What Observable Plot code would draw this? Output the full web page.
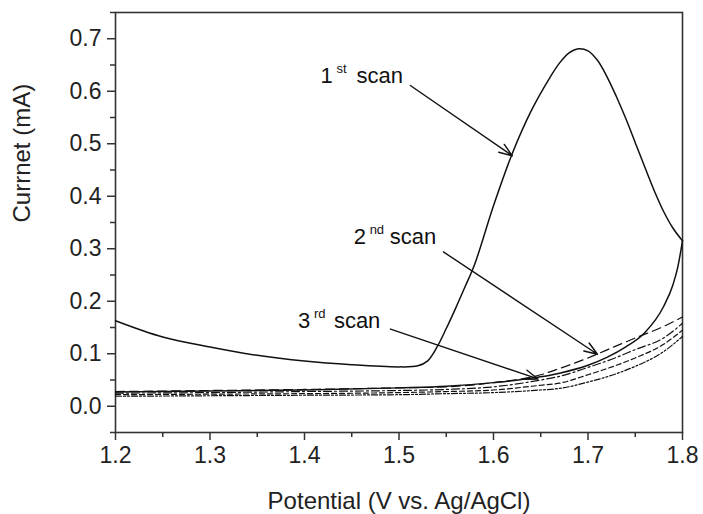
<!DOCTYPE html>
<html>
<head>
<meta charset="utf-8">
<script src="https://cdn.jsdelivr.net/npm/d3@7"></script>
<script src="https://cdn.jsdelivr.net/npm/@observablehq/plot@0.6"></script>
<style>
  body { margin: 0; background: #fff; }
  svg { font-family: "Liberation Sans", Arial, sans-serif; }
</style>
</head>
<body>
<div id="chart"></div>
<script>
// ---- data ----
const scan1FwdV = [1.20,1.25,1.30,1.35,1.40,1.45,1.50,1.52,1.53,1.54,1.55,1.56,1.57,1.58,1.60,1.62,1.64,1.66,1.67,1.68,1.69,1.70,1.71,1.72,1.73,1.74,1.75,1.76,1.77,1.78,1.79,1.80];
const scan1FwdI = [0.163,0.132,0.113,0.097,0.086,0.079,0.075,0.077,0.086,0.112,0.148,0.187,0.228,0.270,0.382,0.482,0.563,0.627,0.654,0.673,0.681,0.677,0.659,0.628,0.590,0.548,0.502,0.456,0.411,0.371,0.339,0.315];
const scan1RevV = [1.20,1.30,1.40,1.50,1.55,1.60,1.65,1.67,1.70,1.72,1.74,1.76,1.78,1.79,1.795,1.80];
const scan1RevI = [0.027,0.029,0.031,0.035,0.038,0.045,0.056,0.063,0.078,0.093,0.113,0.140,0.190,0.232,0.265,0.315];
const scanV    = [1.20,1.30,1.40,1.50,1.55,1.60,1.65,1.67,1.70,1.73,1.75,1.78,1.80];
const scan2FwdI = [0.028,0.030,0.032,0.035,0.037,0.045,0.060,0.072,0.092,0.115,0.130,0.152,0.170];
const scan2RevI = [0.025,0.026,0.028,0.030,0.032,0.037,0.050,0.057,0.074,0.093,0.108,0.130,0.158];
const scan3FwdI = [0.022,0.023,0.024,0.026,0.028,0.031,0.040,0.044,0.060,0.078,0.092,0.118,0.145];
const scan3RevI = [0.019,0.020,0.021,0.022,0.024,0.026,0.031,0.034,0.046,0.062,0.076,0.104,0.133];

const xTicks = [1.2,1.3,1.4,1.5,1.6,1.7,1.8];
const xMinor = [1.25,1.35,1.45,1.55,1.65,1.75];
const yTicks = [0.0,0.1,0.2,0.3,0.4,0.5,0.6,0.7];
const yMinor = [-0.05,0.05,0.15,0.25,0.35,0.45,0.55,0.65,0.75];

const labelNum = ["1","2","3"];
const labelSup = ["st","nd","rd"];
const labelV   = [1.417,1.452,1.393];
const labelI   = [0.616,0.309,0.149];
const arrowV1 = [1.512,1.547,1.491];
const arrowI1 = [0.611,0.294,0.147];
const arrowV2 = [1.620,1.710,1.647];
const arrowI2 = [0.477,0.099,0.052];

const xLabel = "Potential (V vs. Ag/AgCl)";
const yLabel = "Currnet (mA)";

// ---- build tables ----
const toRows = (V, I) => V.map((v, i) => ({v, i: I[i]}));
const solidFwd = toRows(scan1FwdV, scan1FwdI);
const solidRev = toRows(scan1RevV, scan1RevI);
const s2f = toRows(scanV, scan2FwdI);
const s2r = toRows(scanV, scan2RevI);
const s3f = toRows(scanV, scan3FwdI);
const s3r = toRows(scanV, scan3RevI);
const labels = labelNum.map((n, k) => ({n, sup: labelSup[k], v: labelV[k], i: labelI[k]}));
const arrows = arrowV1.map((v, k) => ({v1: v, i1: arrowI1[k], v2: arrowV2[k], i2: arrowI2[k]}));

const lineOpts = {x: "v", y: "i", curve: "monotone-x", stroke: "#111"};

const chart = Plot.plot({
  width: 703,
  height: 514,
  marginLeft: 115,
  marginRight: 21,
  marginTop: 12,
  marginBottom: 82,
  style: {fontFamily: "Liberation Sans, Arial, sans-serif", background: "#fff"},
  x: {domain: [1.2, 1.8]},
  y: {domain: [-0.05, 0.75]},
  marks: [
    Plot.axisX({ticks: xMinor, tickSize: 5, text: null, stroke: "#333", strokeWidth: 1.5, label: null}),
    Plot.axisX({ticks: xTicks, tickSize: 8, tickPadding: 6, tickFormat: d3.format(".1f"), fontSize: 23, fill: "#222", stroke: "#333", strokeWidth: 1.5, label: null}),
    Plot.axisY({ticks: yMinor, tickSize: 5, text: null, stroke: "#333", strokeWidth: 1.5, label: null}),
    Plot.axisY({ticks: yTicks, tickSize: 8, tickPadding: 6, tickFormat: d3.format(".1f"), fontSize: 23, fill: "#222", stroke: "#333", strokeWidth: 1.5, label: null}),
    Plot.frame({stroke: "#333", strokeWidth: 1.6}),
    Plot.line(s3r, {...lineOpts, strokeWidth: 1.2, strokeDasharray: "6,2,2,2,2,2"}),
    Plot.line(s3f, {...lineOpts, strokeWidth: 1.2, strokeDasharray: "5,3"}),
    Plot.line(s2r, {...lineOpts, strokeWidth: 1.2, strokeDasharray: "8,3,2,3"}),
    Plot.line(s2f, {...lineOpts, strokeWidth: 1.2, strokeDasharray: "9,5"}),
    Plot.line(solidRev, {...lineOpts, strokeWidth: 1.5}),
    Plot.line(solidFwd, {...lineOpts, curve: "catmull-rom", strokeWidth: 1.5}),
    Plot.arrow(arrows, {x1: "v1", y1: "i1", x2: "v2", y2: "i2", stroke: "#111", strokeWidth: 1.4, headLength: 15, headAngle: 40}),
    Plot.text(labels, {x: "v", y: "i", text: "n", textAnchor: "start", lineAnchor: "bottom", fontSize: 22, fill: "#111"}),
    Plot.text(labels, {x: "v", y: "i", text: "sup", textAnchor: "start", lineAnchor: "bottom", fontSize: 13, dx: 16, dy: -10, fill: "#111"}),
    Plot.text(labels, {x: "v", y: "i", text: () => "scan", textAnchor: "start", lineAnchor: "bottom", fontSize: 22, dx: 36, fill: "#111"}),
    Plot.text([xLabel], {frameAnchor: "bottom", dy: 76, text: d => d, fontSize: 24, fill: "#222", lineAnchor: "bottom"}),
    Plot.text([yLabel], {frameAnchor: "left", dx: -103, rotate: -90, text: d => d, fontSize: 24, fill: "#222", lineAnchor: "top"})
  ]
});
document.getElementById("chart").appendChild(chart);
</script>
</body>
</html>
